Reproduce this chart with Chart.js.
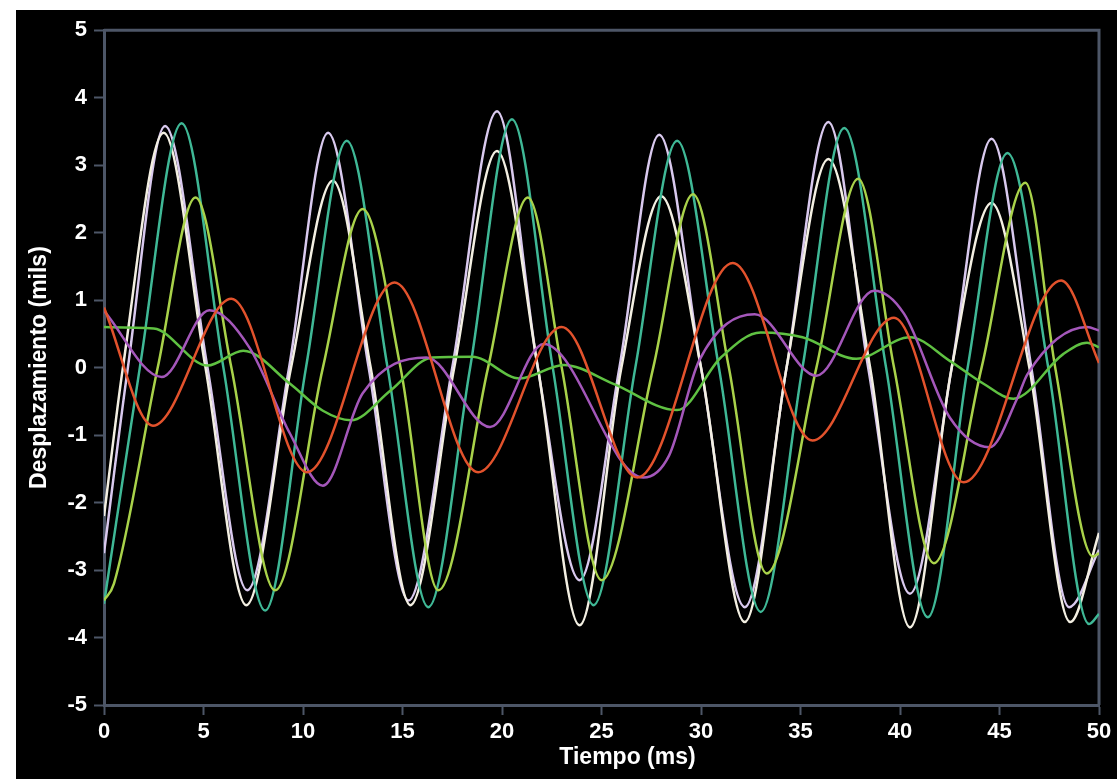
<!DOCTYPE html>
<html>
<head>
<meta charset="utf-8">
<script src="https://cdn.jsdelivr.net/npm/chart.js@4/dist/chart.umd.min.js"></script>
<style>
  html, body { margin: 0; padding: 0; background: #ffffff; }
  #wrap { position: absolute; left: 16px; top: 10px; width: 1101px; height: 769px; background: #000000; }
  canvas { display: block; }
</style>
</head>
<body>
<div id="wrap"><canvas id="c" width="1101" height="769"></canvas></div>
<script>
// ---- data ----
const xTicks = [0, 5, 10, 15, 20, 25, 30, 35, 40, 45, 50];
const yTicks = [-5, -4, -3, -2, -1, 0, 1, 2, 3, 4, 5];
const xTitle = 'Tiempo (ms)';
const yTitle = 'Desplazamiento (mils)';

const lavT = [0, 1.2, 3.07, 5.2, 7.2, 9.3, 11.26, 13.3, 15.3, 17.5, 19.75, 21.8, 23.9, 25.9, 27.9, 30.0, 32.2, 34.3, 36.4, 38.4, 40.5, 42.6, 44.6, 46.6, 48.5, 50];
const lavV = [-2.75, 0, 3.58, 0, -3.3, 0, 3.48, 0, -3.45, 0, 3.80, 0, -3.15, 0, 3.45, 0, -3.55, 0, 3.64, 0, -3.35, 0, 3.39, 0, -3.55, -2.7];

const whtT = [0, 0.95, 3.0, 5.1, 7.15, 9.4, 11.5, 13.4, 15.4, 17.6, 19.75, 21.8, 23.9, 26.0, 28.0, 30.0, 32.2, 34.3, 36.4, 38.5, 40.5, 42.6, 44.6, 46.5, 48.55, 50];
const whtV = [-2.2, 0, 3.48, 0, -3.52, 0, 2.77, 0, -3.52, 0, 3.21, 0, -3.82, 0, 2.54, 0, -3.77, 0, 3.09, 0, -3.85, 0, 2.44, 0, -3.77, -2.45];

const tealT = [0, 1.8, 3.9, 6.0, 8.1, 10.15, 12.2, 14.25, 16.3, 18.4, 20.5, 22.55, 24.6, 26.7, 28.8, 30.9, 33.0, 35.1, 37.2, 39.3, 41.4, 43.4, 45.4, 47.45, 49.5, 50];
const tealV = [-3.5, 0, 3.62, 0, -3.6, 0, 3.36, 0, -3.55, 0, 3.68, 0, -3.52, 0, 3.36, 0, -3.62, 0, 3.55, 0, -3.70, 0, 3.18, 0, -3.8, -3.65];

const ygT = [0, 0.5, 2.7, 4.6, 6.4, 8.6, 11.0, 13.0, 14.9, 16.8, 19.3, 21.3, 23.0, 25.0, 27.6, 29.6, 31.4, 33.3, 35.8, 37.9, 39.7, 41.7, 44.1, 46.3, 47.8, 49.7, 50];
const ygV = [-3.45, -3.2, 0, 2.52, 0, -3.3, 0, 2.35, 0, -3.3, 0, 2.52, 0, -3.15, 0, 2.57, 0, -3.05, 0, 2.8, 0, -2.9, 0, 2.74, 0, -2.8, -2.75];

const orT = [0, 2.46, 6.4, 10.2, 14.6, 18.8, 23.0, 26.8, 31.6, 35.6, 39.7, 43.2, 48.1, 50];
const orV = [0.89, -0.86, 1.02, -1.55, 1.26, -1.55, 0.6, -1.63, 1.55, -1.08, 0.74, -1.7, 1.29, 0.07];

const puT = [0, 2.9, 5.3, 7.3, 9.35, 11.0, 13.0, 16.2, 19.4, 22.1, 27.1, 28.4, 29.9, 32.7, 35.8, 38.7, 40.2, 42.5, 44.5, 45.9, 46.4, 49.4, 50];
const puV = [0.84, -0.14, 0.85, 0.3, -0.98, -1.75, -0.38, 0.15, -0.88, 0.35, -1.63, -1.3, 0.1, 0.79, -0.12, 1.14, 0.8, -0.74, -1.18, -0.45, -0.1, 0.6, 0.55];

const grT = [0, 2.5, 5.2, 7.0, 9.35, 11.0, 12.4, 14.4, 16.5, 18.5, 20.9, 23.1, 25.6, 28.8, 31.0, 33.0, 35.1, 37.8, 40.5, 42.5, 44.2, 45.7, 48.2, 49.4, 50];
const grV = [0.6, 0.58, 0.03, 0.25, -0.24, -0.64, -0.78, -0.34, 0.15, 0.16, -0.16, 0.04, -0.24, -0.63, 0.15, 0.52, 0.45, 0.13, 0.45, 0.1, -0.24, -0.46, 0.2, 0.37, 0.3];

const seriesNames = ['S1', 'S2', 'S3', 'S4', 'S5', 'S6', 'S7'];
const seriesColors = ['#d9c9ee', '#f3efe2', '#3fb896', '#a9d24a', '#e2522c', '#a457ba', '#5fc142'];

// ---- build chart ----
function pts(ts, vs) { return ts.map((t, i) => ({ x: t, y: vs[i] })); }
const allSeries = [
  pts(orT, orV), pts(puT, puV), pts(grT, grV),
  pts(ygT, ygV), pts(tealT, tealV), pts(whtT, whtV), pts(lavT, lavV)
];
const order = [4, 5, 6, 3, 2, 1, 0];

const frameColor = '#4d5667';
const FONT = "'Liberation Sans', Arial, sans-serif";

const framePlugin = {
  id: 'frame',
  beforeDatasetsDraw(chart) {
    const { ctx, chartArea: a } = chart;
    ctx.save();
    ctx.strokeStyle = frameColor;
    ctx.lineWidth = 3;
    ctx.beginPath();
    ctx.moveTo(a.left, a.top);
    ctx.lineTo(a.right, a.top);
    ctx.lineTo(a.right, a.bottom);
    ctx.stroke();
    ctx.restore();
  },
  afterDraw(chart) {
    // x-axis title, set slightly right of centre as in the reference
    const { ctx, chartArea: a } = chart;
    const xs = chart.scales.x;
    ctx.save();
    ctx.fillStyle = '#ffffff';
    ctx.font = "bold 23px " + FONT;
    ctx.textAlign = 'center';
    ctx.textBaseline = 'middle';
    ctx.fillText(xTitle, (a.left + a.right) / 2 + 26, xs.bottom - 21);
    ctx.restore();
  }
};

new Chart(document.getElementById('c'), {
  type: 'line',
  data: {
    datasets: allSeries.map((d, i) => ({
      label: seriesNames[order[i]],
      data: d,
      borderColor: seriesColors[order[i]],
      borderWidth: 2.5,
      pointRadius: 0,
      fill: false,
      cubicInterpolationMode: 'monotone'
    }))
  },
  options: {
    responsive: false,
    animation: false,
    events: [],
    layout: { padding: { left: 0, top: 19, right: 18, bottom: 0 } },
    plugins: { legend: { display: false }, tooltip: { enabled: false } },
    scales: {
      x: {
        type: 'linear', min: 0, max: 50,
        afterFit: s => { s.height = 74; },
        afterBuildTicks: s => { s.ticks = xTicks.map(v => ({ value: v })); },
        border: { display: true, color: frameColor, width: 3 },
        grid: { display: true, drawOnChartArea: false, drawTicks: true, tickLength: 10, tickWidth: 2, color: frameColor },
        ticks: { color: '#ffffff', padding: 4, font: { family: FONT, size: 22, weight: 'bold' }, maxRotation: 0 },
        title: { display: false, text: xTitle }
      },
      y: {
        type: 'linear', min: -5, max: 5,
        afterFit: s => { s.width = 88; },
        afterBuildTicks: s => { s.ticks = yTicks.map(v => ({ value: v })); },
        border: { display: true, color: frameColor, width: 3 },
        grid: { display: true, drawOnChartArea: false, drawTicks: true, tickLength: 10, tickWidth: 2, color: frameColor },
        ticks: { color: '#ffffff', padding: 7, font: { family: FONT, size: 22, weight: 'bold' } },
        title: { display: true, text: yTitle, color: '#ffffff', padding: { top: 10, bottom: 0 }, font: { family: FONT, size: 23, weight: 'bold' } }
      }
    }
  },
  plugins: [framePlugin]
});
</script>
</body>
</html>
